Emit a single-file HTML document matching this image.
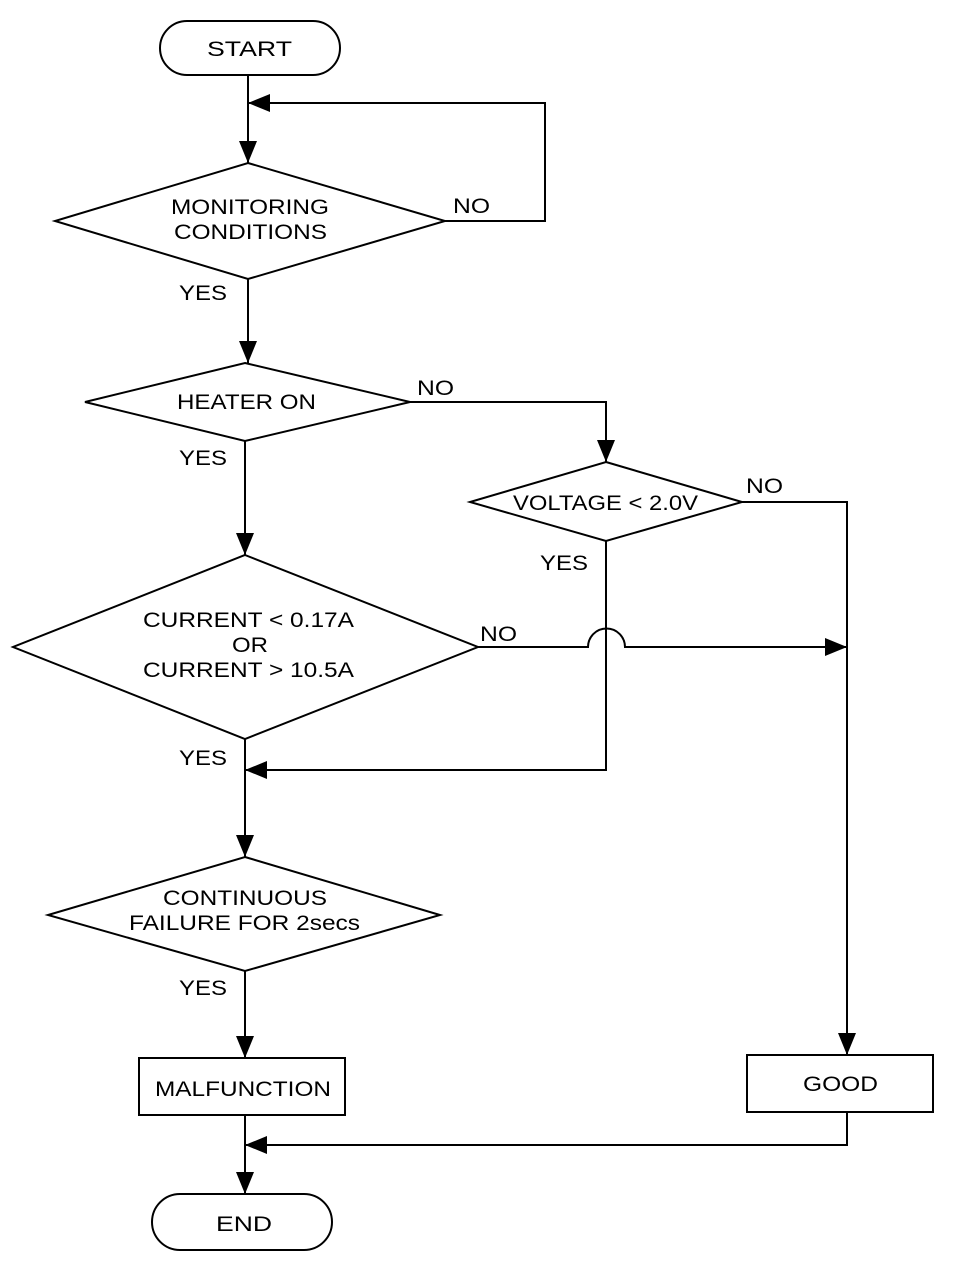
<!DOCTYPE html>
<html><head><meta charset="utf-8"><style>
html,body{margin:0;padding:0;background:#fff;}
svg{display:block;}
text{font-family:"Liberation Sans",sans-serif;font-size:21px;fill:#000;}
</style></head><body>
<svg width="960" height="1262" viewBox="0 0 960 1262" xmlns="http://www.w3.org/2000/svg">
<defs>
<marker id="a" markerWidth="22" markerHeight="18" refX="22" refY="9" orient="auto" markerUnits="userSpaceOnUse">
<path d="M0,0 L22,9 L0,18 Z" fill="#000"/>
</marker>
</defs>
<g fill="none" stroke="#000" stroke-width="2">
<rect x="160" y="21" width="180" height="54" rx="27"/>
<rect x="152" y="1194" width="180" height="56" rx="28"/>
<polygon points="248,163 445,221 248,279 55,221"/>
<polygon points="245,363 410,402 245,441 85,402"/>
<polygon points="606,462 742,502 606,541 470,502"/>
<polygon points="245,555 478,647 245,739 13,647"/>
<polygon points="245,857 440,915 245,971 48,915"/>
<rect x="139" y="1058" width="206" height="57"/>
<rect x="747" y="1055" width="186" height="57"/>
<line x1="248" y1="75" x2="248" y2="163" marker-end="url(#a)"/>
<polyline points="445,221 545,221 545,103 248,103" marker-end="url(#a)"/>
<line x1="248" y1="279" x2="248" y2="363" marker-end="url(#a)"/>
<polyline points="410,402 606,402 606,462" marker-end="url(#a)"/>
<polyline points="742,502 847,502 847,1055" marker-end="url(#a)"/>
<polyline points="606,541 606,770 245,770" marker-end="url(#a)"/>
<line x1="245" y1="441" x2="245" y2="555" marker-end="url(#a)"/>
<path d="M478,647 L588,647 A18,18 0 0 1 625,647 L847,647" marker-end="url(#a)"/>
<line x1="245" y1="739" x2="245" y2="857" marker-end="url(#a)"/>
<line x1="245" y1="971" x2="245" y2="1058" marker-end="url(#a)"/>
<line x1="245" y1="1115" x2="245" y2="1194" marker-end="url(#a)"/>
<polyline points="847,1112 847,1145 245,1145" marker-end="url(#a)"/>
</g>
<g lengthAdjust="spacingAndGlyphs">
<text x="207" y="56" textLength="85" lengthAdjust="spacingAndGlyphs">START</text>
<text x="171" y="214" textLength="158" lengthAdjust="spacingAndGlyphs">MONITORING</text>
<text x="174" y="239" textLength="153" lengthAdjust="spacingAndGlyphs">CONDITIONS</text>
<text x="177" y="409" textLength="139" lengthAdjust="spacingAndGlyphs">HEATER ON</text>
<text x="513" y="510" textLength="185" lengthAdjust="spacingAndGlyphs">VOLTAGE &lt; 2.0V</text>
<text x="143" y="627" textLength="211" lengthAdjust="spacingAndGlyphs">CURRENT &lt; 0.17A</text>
<text x="232" y="652" textLength="36" lengthAdjust="spacingAndGlyphs">OR</text>
<text x="143" y="677" textLength="211" lengthAdjust="spacingAndGlyphs">CURRENT &gt; 10.5A</text>
<text x="163" y="905" textLength="164" lengthAdjust="spacingAndGlyphs">CONTINUOUS</text>
<text x="129" y="930" textLength="231" lengthAdjust="spacingAndGlyphs">FAILURE FOR 2secs</text>
<text x="155" y="1096" textLength="176" lengthAdjust="spacingAndGlyphs">MALFUNCTION</text>
<text x="803" y="1091" textLength="75" lengthAdjust="spacingAndGlyphs">GOOD</text>
<text x="216" y="1231" textLength="56" lengthAdjust="spacingAndGlyphs">END</text>
<text x="453" y="213" textLength="37" lengthAdjust="spacingAndGlyphs">NO</text>
<text x="179" y="300" textLength="48" lengthAdjust="spacingAndGlyphs">YES</text>
<text x="417" y="395" textLength="37" lengthAdjust="spacingAndGlyphs">NO</text>
<text x="179" y="465" textLength="48" lengthAdjust="spacingAndGlyphs">YES</text>
<text x="746" y="493" textLength="37" lengthAdjust="spacingAndGlyphs">NO</text>
<text x="540" y="570" textLength="48" lengthAdjust="spacingAndGlyphs">YES</text>
<text x="480" y="641" textLength="37" lengthAdjust="spacingAndGlyphs">NO</text>
<text x="179" y="765" textLength="48" lengthAdjust="spacingAndGlyphs">YES</text>
<text x="179" y="995" textLength="48" lengthAdjust="spacingAndGlyphs">YES</text>
</g>
</svg>
</body></html>
